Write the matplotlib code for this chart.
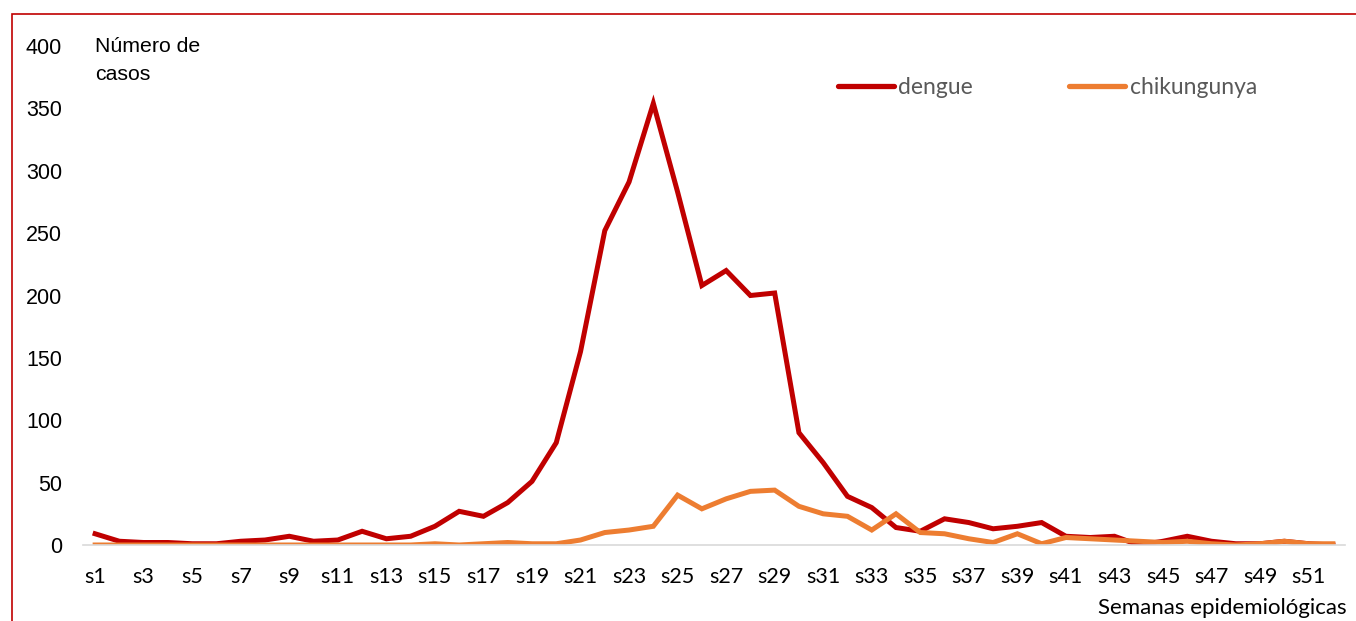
import matplotlib
matplotlib.use('Agg')
import matplotlib.pyplot as plt
from matplotlib.patches import Rectangle

# Casos semanales por semana epidemiológica
weeks = ['s%d' % i for i in range(1, 53)]
dengue = [9, 3, 2, 2, 1, 1, 3, 4, 7, 3, 4, 11, 5, 7, 15, 27, 23, 34, 51, 82,
          155, 252, 291, 354, 283, 208, 220, 200, 202, 90, 66, 39, 30, 14, 11, 21,
          18, 13, 15, 18, 7, 6, 7, 0, 3, 7, 3, 1, 1, 3, 1, 0]
chik = [0, 0, 0, 0, 0, 0, 0, 0, 0, 0, 0, 0, 0, 0, 1, 0, 1, 2, 1, 1,
        4, 10, 12, 15, 40, 29, 37, 43, 44, 31, 25, 23, 12, 25, 10, 9,
        5, 2, 9, 1, 6, 5, 4, 3, 2, 3, 1, 0, 1, 3, 1, 1]
y_ticks = [0, 50, 100, 150, 200, 250, 300, 350, 400]

W, H = 1356, 621
fig = plt.figure(figsize=(W / 100, H / 100), dpi=100)
ax = fig.add_axes([83 / W, (H - 545) / H, (1345 - 83) / W, (545 - 46) / H])

x = list(range(1, len(weeks) + 1))
ax.plot(x, dengue, color='#C00000', lw=3.6, solid_joinstyle='miter', label='dengue')
ax.plot(x, chik, color='#ED7D31', lw=3.6, solid_joinstyle='miter', label='chikungunya')

ax.set_xlim(0.5, 52.5)
ax.set_ylim(0, 400)
ax.set_yticks(y_ticks)
ax.set_yticklabels([str(v) for v in y_ticks], family='Liberation Sans', fontsize=15.5)
ax.set_xticks(x[::2])
ax.set_xticklabels(weeks[::2], family='Lato', fontsize=15.5)
ax.tick_params(axis='y', length=0, pad=15)
ax.tick_params(axis='x', length=0, pad=16)
for s in ['top', 'right', 'left']:
    ax.spines[s].set_visible(False)
ax.spines['bottom'].set_color('#d9d9d9')
ax.spines['bottom'].set_linewidth(1.2)

# titulo del eje y, en dos renglones
fig.text(95 / W, (H - 46) / H, 'Número de', family='Liberation Sans', fontsize=15.3,
         va='center', ha='left')
fig.text(95 / W, (H - 74) / H, 'casos', family='Liberation Sans', fontsize=15.3,
         va='center', ha='left')
fig.text(1347 / W, (H - 608) / H, 'Semanas epidemiológicas', family='Lato', fontsize=16,
         ha='right', va='center')

leg = ax.legend(loc='center left', bbox_to_anchor=(838 / W, (H - 88) / H),
                bbox_transform=fig.transFigure, ncol=2, frameon=False,
                prop={'family': 'Lato', 'size': 16.5}, handlelength=2.45,
                handletextpad=0.18, columnspacing=4.2, borderpad=0, borderaxespad=0)
for t in leg.get_texts():
    t.set_color('#595959')
for h in leg.get_lines():
    h.set_linewidth(3.8)
    h.set_solid_capstyle('round')

fig.patches.append(Rectangle((12 / W, -0.1), 1.1, (H - 14) / H + 0.1,
                             transform=fig.transFigure, fill=False,
                             edgecolor='#C00000', lw=1.2))

fig.savefig('out.png', dpi=100)
